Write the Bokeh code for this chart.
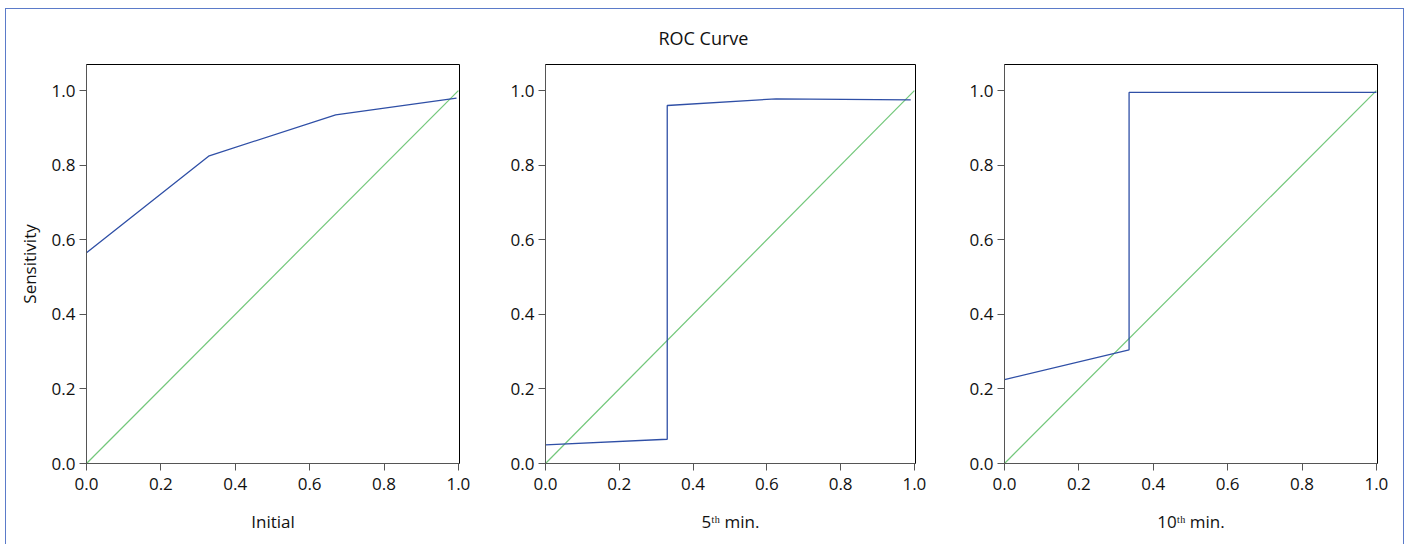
from bokeh.plotting import figure
from bokeh.layouts import row
from bokeh.models import Range1d, FixedTicker, NumeralTickFormatter
from bokeh.embed import file_html
from bokeh.resources import INLINE

# Data
diag_x = [0.0, 1.0]
diag_y = [0.0, 1.0]

initial_fpr = [0.0, 0.33, 0.67, 0.995]
initial_tpr = [0.565, 0.825, 0.935, 0.98]

min5_fpr = [0.0, 0.33, 0.33, 0.625, 0.99]
min5_tpr = [0.05, 0.065, 0.96, 0.978, 0.975]

min10_fpr = [0.0, 0.335, 0.335, 1.0]
min10_tpr = [0.225, 0.305, 0.995, 0.995]

x_labels = ["Initial", "5ᵗʰ min.", "10ᵗʰ min."]
ticks = [0.0, 0.2, 0.4, 0.6, 0.8, 1.0]

BLUE = "#2f4fa6"
GREEN = "#72c77a"
AXIS = "#555555"
FONT = "Open Sans"

H = 535
TOP = 55
FRAME_H = 399
BOTTOM = H - TOP - FRAME_H


def make(fpr, tpr, xlabel, width, left, frame_w, ylabel=""):
    p = figure(width=width, height=H, output_backend="svg", toolbar_location=None,
               x_range=Range1d(0, 1.003), y_range=Range1d(0, 1.07),
               min_border_left=left, min_border_right=width - left - frame_w,
               min_border_top=TOP, min_border_bottom=BOTTOM)
    p.xgrid.visible = False
    p.ygrid.visible = False
    p.outline_line_color = "black"
    p.outline_line_width = 1
    p.background_fill_color = "white"
    p.border_fill_color = "white"
    for ax in (p.xaxis[0], p.yaxis[0]):
        ax.ticker = FixedTicker(ticks=ticks)
        ax.formatter = NumeralTickFormatter(format="0.0")
        ax.axis_line_color = AXIS
        ax.major_tick_line_color = AXIS
        ax.major_tick_out = 7
        ax.major_tick_in = 0
        ax.minor_tick_line_color = None
        ax.major_label_text_font = FONT
        ax.major_label_text_font_size = "17px"
        ax.major_label_text_color = "#111111"
        ax.axis_label_text_font = FONT
        ax.axis_label_text_font_size = "17px"
        ax.axis_label_text_font_style = "normal"
        ax.axis_label_text_color = "#111111"
    p.xaxis.major_label_standoff = 7
    p.yaxis.major_label_standoff = 4
    p.xaxis.axis_label = xlabel
    p.xaxis.axis_label_standoff = 17
    p.yaxis.axis_label = ylabel
    p.yaxis.axis_label_standoff = 8
    p.line(diag_x, diag_y, line_color=GREEN, line_width=1.2)
    p.line(fpr, tpr, line_color=BLUE, line_width=1.3)
    return p


p1 = make(initial_fpr, initial_tpr, x_labels[0], 474, 80, 373, "Sensitivity")
p2 = make(min5_fpr, min5_tpr, x_labels[1], 470, 65, 370)
p3 = make(min10_fpr, min10_tpr, x_labels[2], 453, 54, 373)

p2.title.text = "ROC Curve"
p2.title.align = "left"
p2.title.offset = 113
p2.title.text_font = FONT
p2.title.text_font_size = "18px"
p2.title.text_font_style = "normal"
p2.title.text_color = "#111111"
p2.title.standoff = 29

layout = row(p1, p2, p3, spacing=0,
             styles={"margin-left": "5px", "margin-top": "8px",
                     "border": "1px solid #5b7bc9", "border-bottom": "none"})

open("out.html", "w").write(file_html(layout, INLINE))
